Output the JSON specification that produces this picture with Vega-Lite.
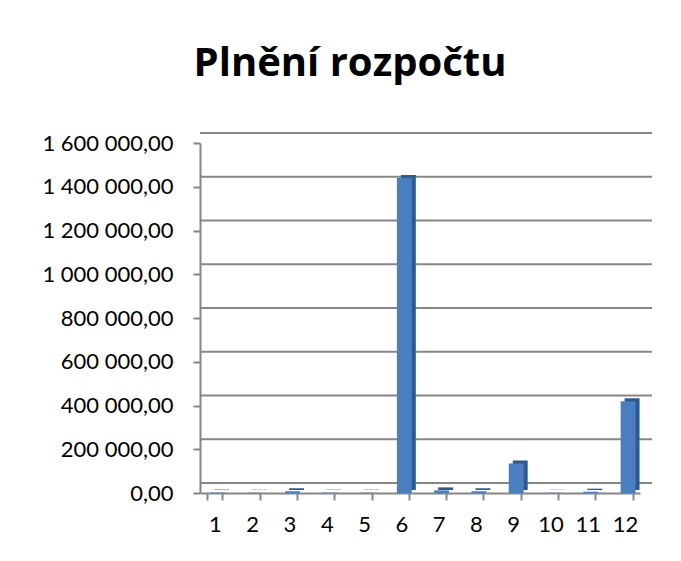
{
  "$schema": "https://vega.github.io/schema/vega-lite/v6.json",
  "autosize": "none",
  "width": 440,
  "height": 350,
  "padding": {"left": 200, "top": 143, "right": 41, "bottom": 68},
  "background": "white",
  "config": {
    "locale": {"number": {"decimal": ",", "thousands": " ", "grouping": [3], "currency": ["", " Kč"]}},
    "view": {"stroke": null},
    "font": "Lato",
    "axisY": {
      "title": null,
      "values": [0, 200000, 400000, 600000, 800000, 1000000, 1200000, 1400000, 1600000],
      "format": ",.2f",
      "labelFontSize": 22,
      "labelColor": "#000000",
      "labelPadding": 20,
      "tickColor": "#868686",
      "tickWidth": 2,
      "tickSize": 7,
      "domainColor": "#868686",
      "domainWidth": 2,
      "grid": false
    }
  },
  "title": {
    "text": "Plnění rozpočtu",
    "font": "Open Sans",
    "fontSize": 40,
    "fontWeight": "bold",
    "color": "#000000",
    "anchor": "middle",
    "frame": "group",
    "dx": -70,
    "offset": 48
  },
  "layer": [
    {
      "data": {"values": [
        {"hodnota": 0}, {"hodnota": 200000}, {"hodnota": 400000}, {"hodnota": 600000},
        {"hodnota": 800000}, {"hodnota": 1000000}, {"hodnota": 1200000}, {"hodnota": 1400000}, {"hodnota": 1600000}
      ]},
      "mark": {"type": "rule", "color": "#868686", "strokeWidth": 2, "xOffset": 12, "yOffset": -10},
      "encoding": {
        "y": {"field": "hodnota", "type": "quantitative", "title": null, "scale": {"domain": [0, 1600000]}}
      }
    },
    {
      "data": {
        "values": [
          {"mesic": "1", "castka": 2000},
          {"mesic": "2", "castka": 1500},
          {"mesic": "3", "castka": 8000},
          {"mesic": "4", "castka": 1500},
          {"mesic": "5", "castka": 1500},
          {"mesic": "6", "castka": 1440000},
          {"mesic": "7", "castka": 12000},
          {"mesic": "8", "castka": 8000},
          {"mesic": "9", "castka": 135000},
          {"mesic": "10", "castka": 1000},
          {"mesic": "11", "castka": 6000},
          {"mesic": "12", "castka": 420000}
        ]
      },
      "encoding": {
        "x": {
          "field": "mesic",
          "type": "ordinal",
          "sort": null,
          "scale": {"paddingInner": 0.6, "paddingOuter": 0.2},
          "axis": {
            "title": null,
            "labelAngle": 0,
            "labelFontSize": 22,
            "labelColor": "#000000",
            "labelPadding": 14,
            "tickBand": "extent",
            "tickColor": "#868686",
            "tickWidth": 2,
            "tickSize": 7,
            "domainColor": "#868686",
            "domainWidth": 2,
            "grid": false
          }
        },
        "y": {
          "field": "castka",
          "type": "quantitative",
          "title": null,
          "scale": {"domain": [0, 1600000]}
        }
      },
      "layer": [
        {"mark": {"type": "bar", "color": "#2f5a8e", "xOffset": 7, "yOffset": -3}},
        {"mark": {"type": "bar", "color": "#4a7ebf", "xOffset": 3}}
      ]
    }
  ]
}
